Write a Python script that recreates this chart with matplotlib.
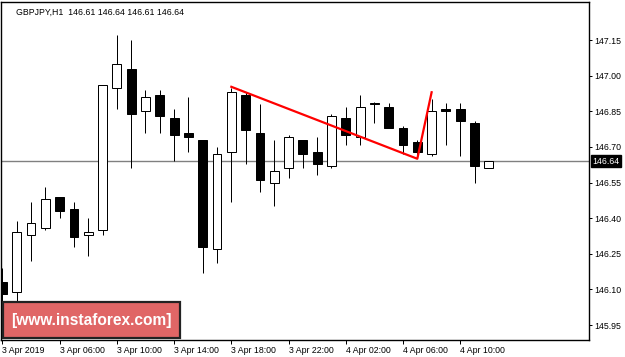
import matplotlib
matplotlib.use("Agg")
import matplotlib.pyplot as plt
import matplotlib.transforms as mtransforms
from matplotlib.patches import Rectangle

# GBPJPY H1 candles, 3 Apr 02:00 .. 4 Apr 12:00
opens = [146.13, 146.09, 146.33, 146.36, 146.49, 146.44, 146.33, 146.35, 146.95, 147.03,
         146.85, 146.92, 146.82, 146.76, 146.73, 146.27, 146.68, 146.92, 146.76, 146.55,
         146.61, 146.73, 146.68, 146.62, 146.82, 146.74, 146.885, 146.87, 146.78, 146.72,
         146.67, 146.86, 146.86, 146.80, 146.61]
highs = [146.19, 146.39, 146.47, 146.53, 146.49, 146.47, 146.40, 146.96, 147.17, 147.15,
         146.94, 146.94, 146.86, 146.91, 146.73, 146.70, 146.95, 146.93, 146.88, 146.73,
         146.75, 146.73, 146.74, 146.84, 146.87, 146.92, 146.89, 146.885, 146.79, 146.73,
         146.90, 146.885, 146.885, 146.81, 146.64]
lows = [146.05, 146.04, 146.22, 146.35, 146.40, 146.28, 146.24, 146.33, 146.86, 146.61,
        146.76, 146.76, 146.64, 146.68, 146.17, 146.21, 146.47, 146.63, 146.51, 146.45,
        146.57, 146.61, 146.58, 146.61, 146.71, 146.71, 146.80, 146.78, 146.67, 146.66,
        146.66, 146.71, 146.66, 146.55, 146.61]
closes = [146.08, 146.34, 146.38, 146.48, 146.43, 146.32, 146.34, 146.96, 147.05, 146.84,
          146.91, 146.83, 146.75, 146.74, 146.28, 146.67, 146.93, 146.77, 146.56, 146.60,
          146.74, 146.67, 146.63, 146.83, 146.75, 146.87, 146.88, 146.78, 146.71, 146.68,
          146.85, 146.85, 146.81, 146.62, 146.64]

# pattern line (bar index, price)
pattern_x = [16, 29, 30]
pattern_y = [146.953, 146.65, 146.93]

current_price = 146.64
yticks = [145.95, 146.10, 146.25, 146.40, 146.55, 146.70, 146.85, 147.00, 147.15]
xtick_pos = [0, 4, 8, 12, 16, 20, 24, 28, 32]
xtick_labels = ["3 Apr 2019", "3 Apr 06:00", "3 Apr 10:00", "3 Apr 14:00", "3 Apr 18:00",
                "3 Apr 22:00", "4 Apr 02:00", "4 Apr 06:00", "4 Apr 10:00"]

plt.rcParams['font.family'] = ['Liberation Sans', 'DejaVu Sans']

W, H = 625, 357
fig = plt.figure(figsize=(W / 100, H / 100), dpi=100)
ax = fig.add_axes([1 / W, (H - 340) / H, 588 / W, 338 / H])

px = 1 / 1.39  # one pixel in points
body_w = 0.62
for i in range(len(opens)):
    o, h, l, c = opens[i], highs[i], lows[i], closes[i]
    ax.vlines(i, l, h, color='black', linewidth=px, zorder=2)
    bottom = min(o, c)
    height = max(abs(c - o), 0.004)
    fc = 'white' if c > o else 'black'
    ax.bar(i, height, bottom=bottom, width=body_w, color=fc, edgecolor='black',
           linewidth=px, zorder=3)

ax.axhline(current_price, color='#808080', linewidth=1.0, zorder=1)
ax.plot(pattern_x, pattern_y, color='#ff0000', linewidth=1.6, zorder=4)

ax.set_xlim(-0.1, 41.0)
ax.set_ylim(145.887, 147.31)

ax.yaxis.tick_right()
ax.set_yticks(yticks)
ax.set_yticklabels(["%.2f" % v for v in yticks], fontsize=6.3)
ax.tick_params(axis='y', length=2.5, width=px, pad=1.5)
ax.set_xticks(xtick_pos)
ax.set_xticklabels(xtick_labels, fontsize=6.3, ha='left')
ax.tick_params(axis='x', length=3, width=px, pad=1.5)
for lab in ax.get_xticklabels():
    lab.set_horizontalalignment('left')
for s in ax.spines.values():
    s.set_linewidth(1.0)
    s.set_color('black')

# current price label
trans = mtransforms.blended_transform_factory(ax.transAxes, ax.transData)
ax.text(1.006, current_price, "%.2f" % current_price, transform=trans, fontsize=6.3,
        color='white', va='center', ha='left',
        bbox=dict(facecolor='black', edgecolor='black', pad=1.2))

# title
fig.text(16 / W, 1 - 12 / H, "GBPJPY,H1  146.61 146.64 146.61 146.64", fontsize=6.3,
         color='black', va='center', ha='left')

# watermark
fig.patches.append(Rectangle((3 / W, (H - 338) / H), 177 / W, 36 / H,
                             transform=fig.transFigure, facecolor='#e06666',
                             edgecolor='#222222', linewidth=1.6, zorder=5))
fig.text(91 / W, (H - 320) / H, "[www.instaforex.com]", fontsize=11.2,
         weight='bold', color='white', ha='center', va='center', zorder=6)

fig.savefig("out.png", dpi=100)
